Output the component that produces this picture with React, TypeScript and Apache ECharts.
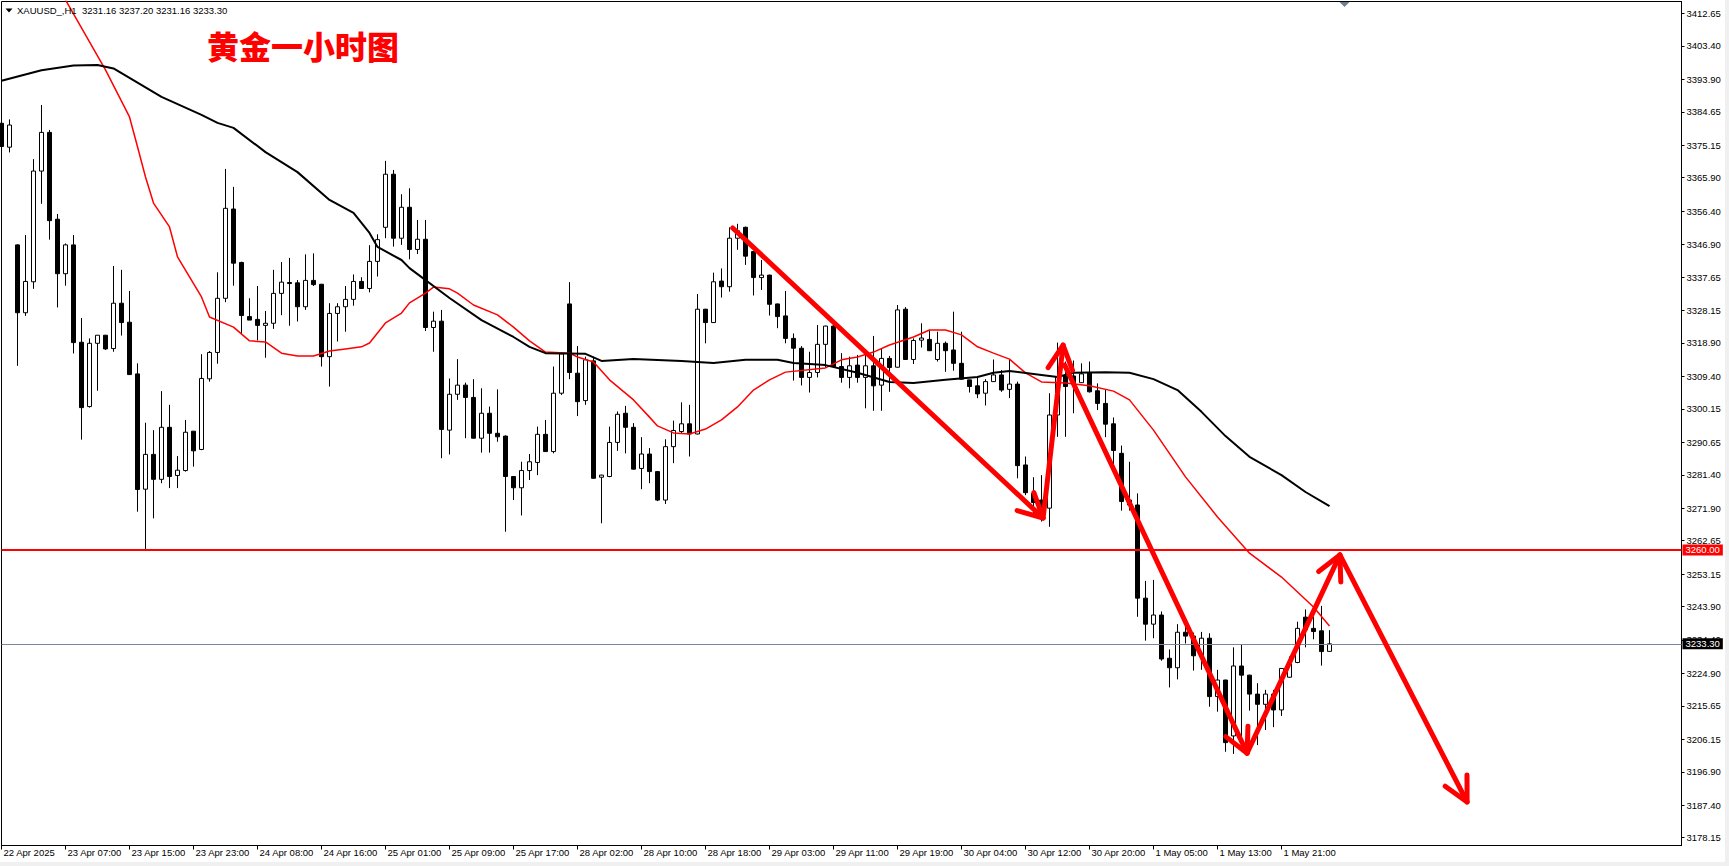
import React, { useEffect, useRef } from "react";
import * as echarts from "echarts";

const xTickLabels = [
  "22 Apr 2025", "23 Apr 07:00", "23 Apr 15:00", "23 Apr 23:00", "24 Apr 08:00", "24 Apr 16:00",
  "25 Apr 01:00", "25 Apr 09:00", "25 Apr 17:00", "28 Apr 02:00", "28 Apr 10:00", "28 Apr 18:00",
  "29 Apr 03:00", "29 Apr 11:00", "29 Apr 19:00", "30 Apr 04:00", "30 Apr 12:00", "30 Apr 20:00",
  "1 May 05:00", "1 May 13:00", "1 May 21:00",
];
const barsPerLabel = 8;
const slotCount = 211;

const priceTicks = [
  3412.65, 3403.4, 3393.9, 3384.65, 3375.15, 3365.9, 3356.4, 3346.9, 3337.65, 3328.15, 3318.9,
  3309.4, 3300.15, 3290.65, 3281.4, 3271.9, 3262.65, 3253.15, 3243.9, 3234.4, 3224.9, 3215.65,
  3206.15, 3196.9, 3187.4, 3178.15,
];

const levelPrice = 3260.0;

// [open, high, low, close]
const barsA = [
  [3381.4, 3385.7, 3366.7, 3374.8], [3374.6, 3382.5, 3373.1, 3380.9], [3346.8, 3347.0, 3312.4, 3327.5],
  [3327.5, 3349.6, 3326.6, 3336.4], [3336.3, 3371.2, 3334.3, 3367.8], [3367.8, 3386.6, 3358.5, 3378.8],
  [3378.8, 3379.5, 3348.3, 3353.7], [3354.1, 3355.6, 3329.0, 3338.6], [3338.6, 3347.2, 3335.2, 3346.8],
  [3346.8, 3349.6, 3315.9, 3319.0], [3319.1, 3326.0, 3291.4, 3300.5], [3300.8, 3320.2, 3300.5, 3318.8],
  [3318.8, 3321.1, 3305.3, 3321.1], [3321.1, 3321.2, 3316.9, 3317.2], [3317.3, 3340.8, 3316.4, 3330.2],
  [3330.2, 3339.7, 3321.0, 3324.7], [3324.8, 3333.7, 3309.8, 3309.9], [3310.1, 3313.1, 3270.9, 3277.2],
  [3277.3, 3296.2, 3260.0, 3287.2], [3287.2, 3294.1, 3269.0, 3280.1], [3280.1, 3305.2, 3279.0, 3294.9],
  [3294.9, 3301.3, 3277.6, 3280.9], [3281.2, 3286.7, 3277.6, 3282.7], [3282.6, 3297.0, 3282.3, 3293.5],
  [3293.8, 3293.8, 3283.7, 3288.2], [3288.6, 3315.7, 3288.4, 3308.8], [3308.7, 3316.6, 3307.9, 3316.2],
  [3316.2, 3339.0, 3313.0, 3331.6], [3331.6, 3368.4, 3330.5, 3357.2], [3357.0, 3363.3, 3335.2, 3341.6],
  [3341.8, 3342.0, 3321.4, 3326.7], [3326.4, 3331.6, 3325.4, 3325.4], [3325.6, 3335.1, 3319.6, 3323.9],
  [3323.9, 3328.0, 3314.7, 3324.5], [3324.5, 3339.7, 3322.9, 3333.0], [3333.0, 3341.9, 3326.8, 3336.2],
  [3336.1, 3343.1, 3323.8, 3335.8], [3336.0, 3336.8, 3325.0, 3329.2], [3329.2, 3344.1, 3328.3, 3336.7],
  [3336.7, 3344.4, 3335.1, 3335.5], [3335.6, 3335.7, 3312.2, 3315.0], [3315.0, 3330.2, 3306.5, 3327.3],
];
const barsB = [
  [3327.3, 3330.2, 3319.3, 3329.2], [3329.2, 3335.1, 3322.1, 3331.3], [3331.3, 3338.4, 3329.5, 3336.4],
  [3336.4, 3337.6, 3334.3, 3334.4], [3334.4, 3346.7, 3333.3, 3342.1], [3342.1, 3349.8, 3337.8, 3348.3],
  [3351.8, 3370.7, 3348.7, 3366.9], [3366.9, 3368.1, 3346.3, 3348.7], [3348.7, 3361.2, 3346.8, 3357.5],
  [3357.5, 3362.9, 3342.7, 3345.5], [3345.5, 3353.9, 3344.2, 3348.4], [3348.4, 3353.9, 3322.3, 3323.3],
  [3323.3, 3327.8, 3316.4, 3325.1], [3325.1, 3328.3, 3286.1, 3294.3], [3294.1, 3308.8, 3287.2, 3304.3],
  [3304.3, 3314.3, 3302.7, 3306.9], [3306.9, 3307.6, 3291.8, 3303.4], [3303.4, 3308.6, 3291.7, 3291.8],
  [3291.8, 3306.0, 3287.7, 3298.9], [3298.9, 3300.8, 3287.7, 3293.2], [3293.2, 3305.7, 3290.8, 3292.2],
  [3292.4, 3292.6, 3265.2, 3280.9], [3280.9, 3281.0, 3274.2, 3277.7], [3277.7, 3285.1, 3269.8, 3282.6],
  [3282.6, 3287.3, 3279.9, 3285.1], [3284.9, 3295.1, 3281.3, 3292.9], [3292.9, 3297.0, 3287.9, 3288.0],
  [3288.0, 3312.2, 3287.5, 3304.6], [3304.6, 3316.0, 3304.1, 3315.8], [3330.0, 3336.2, 3308.6, 3310.5],
  [3310.3, 3318.0, 3298.1, 3302.2], [3302.5, 3315.0, 3301.3, 3314.1], [3313.8, 3315.0, 3280.3, 3280.4],
  [3280.7, 3281.4, 3267.6, 3281.3], [3280.9, 3295.1, 3280.7, 3290.6], [3290.6, 3299.4, 3288.2, 3298.6],
  [3298.9, 3301.0, 3287.5, 3294.9], [3294.9, 3296.1, 3282.9, 3283.0], [3283.2, 3292.1, 3277.3, 3287.3],
  [3287.3, 3289.0, 3279.0, 3282.3], [3282.3, 3282.4, 3273.9, 3274.2], [3274.2, 3291.5, 3273.1, 3289.4],
];
const barsC = [
  [3289.4, 3296.8, 3284.7, 3294.0], [3293.7, 3302.0, 3293.2, 3295.9], [3295.9, 3301.3, 3286.6, 3293.0],
  [3293.0, 3332.8, 3292.9, 3328.5], [3328.5, 3328.6, 3318.8, 3324.7], [3324.7, 3338.9, 3324.6, 3336.3],
  [3336.5, 3340.1, 3331.8, 3334.9], [3334.9, 3351.8, 3333.5, 3348.7], [3348.7, 3352.8, 3345.4, 3350.8],
  [3351.8, 3352.0, 3341.1, 3343.6], [3344.9, 3345.0, 3332.4, 3337.5], [3337.5, 3342.5, 3334.0, 3338.2],
  [3338.2, 3338.3, 3326.7, 3329.9], [3330.0, 3330.1, 3323.1, 3326.4], [3326.6, 3333.7, 3318.8, 3320.2],
  [3320.2, 3321.6, 3308.2, 3317.4], [3317.4, 3318.0, 3306.8, 3309.1], [3309.1, 3316.4, 3304.8, 3310.5],
  [3310.5, 3324.0, 3309.1, 3318.5], [3318.5, 3323.8, 3311.9, 3323.7], [3323.7, 3324.5, 3312.0, 3312.2],
  [3312.2, 3316.0, 3307.6, 3309.1], [3309.1, 3315.0, 3306.0, 3312.4], [3312.6, 3315.5, 3307.6, 3309.1],
  [3309.1, 3316.0, 3300.3, 3312.4], [3312.4, 3320.9, 3299.6, 3306.7], [3306.9, 3317.4, 3299.6, 3314.5],
  [3314.5, 3315.2, 3305.0, 3311.9], [3312.0, 3329.7, 3311.9, 3328.3], [3328.5, 3329.1, 3314.2, 3314.2],
  [3314.2, 3320.2, 3312.9, 3319.6], [3319.7, 3324.5, 3317.6, 3320.3], [3319.9, 3322.6, 3316.6, 3316.7],
  [3314.2, 3322.1, 3313.6, 3318.8], [3318.8, 3319.3, 3310.7, 3316.7], [3316.9, 3327.8, 3311.0, 3313.1],
  [3313.1, 3322.1, 3308.5, 3308.6], [3308.4, 3308.4, 3304.8, 3306.5], [3306.7, 3309.5, 3303.2, 3304.4],
  [3304.6, 3308.6, 3301.1, 3307.9], [3307.9, 3314.2, 3307.8, 3309.8], [3309.8, 3311.2, 3305.0, 3305.5],
];
const barsD = [
  [3305.7, 3314.2, 3303.2, 3307.2], [3307.2, 3307.9, 3280.4, 3284.0], [3284.2, 3286.6, 3275.6, 3276.3],
  [3276.1, 3280.7, 3270.1, 3273.5], [3274.2, 3281.3, 3268.1, 3270.4], [3271.9, 3304.6, 3266.6, 3298.4],
  [3298.4, 3319.0, 3292.2, 3309.3], [3309.5, 3313.6, 3292.2, 3306.5], [3309.5, 3313.9, 3298.9, 3307.6],
  [3307.6, 3313.1, 3307.5, 3310.1], [3310.5, 3313.6, 3304.8, 3305.0], [3305.3, 3307.4, 3299.8, 3301.7],
  [3301.7, 3305.5, 3292.1, 3295.8], [3295.9, 3297.7, 3284.2, 3288.3], [3287.5, 3289.7, 3271.2, 3273.8],
  [3274.2, 3285.1, 3271.2, 3272.8], [3272.8, 3276.1, 3241.0, 3246.3], [3246.3, 3251.2, 3234.2, 3238.9],
  [3238.9, 3251.5, 3234.9, 3241.5], [3241.5, 3242.5, 3228.5, 3229.0], [3229.2, 3231.7, 3220.9, 3226.5],
  [3226.5, 3238.9, 3223.2, 3236.6], [3236.6, 3238.7, 3233.4, 3235.5], [3235.5, 3236.5, 3225.7, 3229.9],
  [3229.9, 3236.7, 3225.9, 3234.9], [3234.9, 3236.3, 3215.4, 3218.3], [3218.3, 3225.9, 3214.0, 3223.0],
  [3223.0, 3223.1, 3202.6, 3205.2], [3207.1, 3232.3, 3202.0, 3227.0], [3227.0, 3233.0, 3204.0, 3224.4],
  [3224.4, 3224.5, 3214.3, 3219.0], [3219.0, 3222.1, 3204.5, 3216.1], [3216.1, 3220.2, 3208.8, 3219.0],
  [3219.0, 3220.2, 3209.6, 3214.5], [3214.5, 3226.4, 3212.8, 3226.3], [3223.8, 3229.7, 3223.7, 3227.6],
  [3228.0, 3239.6, 3227.8, 3237.7], [3240.9, 3243.1, 3232.3, 3237.3], [3237.7, 3241.0, 3234.6, 3236.8],
  [3237.0, 3244.1, 3227.1, 3231.1], [3231.16, 3237.2, 3231.16, 3233.3],
];

// moving averages: [bar index, price]
const fastMA = [
  [7, 3422.0], [8, 3416.5], [13, 3396.6], [16, 3383.2], [17, 3374.7], [18, 3366.1], [19, 3358.7],
  [21, 3351.9], [22, 3343.4], [25, 3332.0], [26, 3326.3], [29, 3323.4], [31, 3319.5], [33, 3319.2],
  [35, 3316.0], [37, 3315.2], [39, 3315.2], [41, 3316.6], [43, 3317.2], [45, 3317.8], [46, 3318.9],
  [48, 3324.6], [50, 3327.4], [51, 3330.3], [53, 3333.1], [54, 3334.8], [56, 3334.3], [57, 3333.1],
  [59, 3329.7], [62, 3326.9], [64, 3323.4], [66, 3319.5], [68, 3316.3], [71, 3316.0], [72, 3314.9],
  [74, 3313.5], [76, 3308.4], [79, 3302.7], [81, 3297.8], [82, 3295.3], [84, 3293.3], [86, 3293.0],
  [88, 3294.4], [90, 3297.0], [92, 3300.7], [94, 3305.5], [96, 3308.4], [98, 3310.6], [103, 3311.8],
  [105, 3314.1], [107, 3314.9], [109, 3316.3], [111, 3318.3], [114, 3320.6], [116, 3322.6],
  [118, 3322.6], [120, 3321.2], [122, 3317.8], [124, 3316.0], [126, 3314.3], [128, 3310.4],
  [130, 3307.8], [133, 3307.5], [136, 3306.7], [139, 3305.2], [141, 3302.7], [144, 3294.1],
  [148, 3280.8], [152, 3269.4], [156, 3259.1], [160, 3252.3], [164, 3243.8], [166, 3238.4],
];
const slowMA = [
  [0, 3393.5], [5, 3396.5], [9, 3397.8], [12, 3398.0], [14, 3397.0], [20, 3388.9], [25, 3383.8],
  [27, 3381.5], [29, 3380.1], [33, 3373.2], [37, 3367.5], [41, 3359.6], [44, 3355.9], [46, 3350.2],
  [47, 3346.2], [50, 3342.5], [51, 3340.2], [56, 3331.7], [60, 3325.4], [64, 3320.6], [66, 3317.8],
  [68, 3316.0], [73, 3315.8], [75, 3313.8], [79, 3314.3], [85, 3313.8], [89, 3313.2], [93, 3314.1],
  [97, 3314.1], [99, 3313.2], [103, 3312.6], [107, 3310.4], [111, 3307.8], [114, 3307.5],
  [118, 3308.4], [122, 3309.2], [124, 3310.4], [126, 3310.9], [130, 3309.8], [132, 3309.2],
  [134, 3310.4], [138, 3310.6], [141, 3310.4], [144, 3308.6], [147, 3305.5], [150, 3299.3],
  [153, 3292.4], [156, 3286.5], [160, 3281.3], [163, 3276.5], [166, 3272.5],
];

// hand-drawn arrows: [fromBar, fromPrice, toBar, toPrice]
const arrowSegments = [
  [91.4, 3351.6, 130.2, 3269.1],
  [130.2, 3269.1, 132.7, 3318.3],
  [132.9, 3312.6, 155.7, 3202.2],
  [155.7, 3202.2, 167.3, 3258.6],
  [167.3, 3258.6, 183.2, 3188.3],
];

const symbolName = "XAUUSD_,H1";
const chartTitle = "黄金一小时图";

export default function App() {
  const ref = useRef<HTMLDivElement>(null);

  useEffect(() => {
    document.body.style.margin = "0";
    const el = ref.current!;
    const chart = echarts.init(el, null, { renderer: "svg" });

    const candles = [...barsA, ...barsB, ...barsC, ...barsD];
    const last = candles[candles.length - 1];
    const lastPrice = last[3];
    const cats = Array.from({ length: slotCount }, (_, i) => String(i));
    const isLabelIdx = (i: number) => i % barsPerLabel === 0 && i / barsPerLabel < xTickLabels.length;

    const font = "Liberation Sans";

    const option: any = {
      animation: false,
      backgroundColor: "#ffffff",
      textStyle: { fontFamily: font },
      grid: {
        left: 1.5,
        top: 1.5,
        width: 1680,
        height: 844,
        show: true,
        borderColor: "#000",
        borderWidth: 1,
        backgroundColor: "transparent",
      },
      xAxis: {
        type: "category",
        data: cats,
        boundaryGap: false,
        axisLine: { show: true, lineStyle: { color: "#000", width: 1 } },
        axisTick: {
          show: true,
          length: 4,
          lineStyle: { color: "#000" },
          interval: (i: number) => isLabelIdx(i),
        },
        axisLabel: {
          show: true,
          interval: (i: number) => isLabelIdx(i),
          formatter: (_v: string, i: number) => (isLabelIdx(i) ? xTickLabels[i / barsPerLabel] : ""),
          align: "left",
          padding: [0, 0, 0, 2],
          margin: 2,
          fontSize: 9.5,
          fontFamily: font,
          color: "#000",
        },
        splitLine: { show: false },
      },
      yAxis: {
        type: "value",
        position: "right",
        min: 3175.93,
        max: 3416.04,
        scale: true,
        axisLine: { show: true, lineStyle: { color: "#000", width: 1 } },
        axisTick: { show: true, length: 3, lineStyle: { color: "#000" }, customValues: priceTicks },
        axisLabel: {
          show: true,
          customValues: priceTicks,
          formatter: (v: number) => v.toFixed(2),
          margin: 5,
          fontSize: 9.5,
          fontFamily: font,
          color: "#000",
        },
        splitLine: { show: false },
      },
      series: [
        {
          type: "candlestick",
          data: candles.map(([o, h, l, c]) => [o, c, l, h]),
          barWidth: 4,
          clip: true,
          z: 2,
          itemStyle: {
            color: "#ffffff",
            color0: "#000000",
            borderColor: "#000000",
            borderColor0: "#000000",
            borderWidth: 1,
          },
          markLine: {
            silent: true,
            symbol: ["none", "none"],
            animation: false,
            z: 6,
            data: [
              {
                yAxis: levelPrice,
                lineStyle: { color: "#ff0000", width: 2, type: "solid" },
                label: {
                  show: true,
                  position: "end",
                  distance: 1,
                  formatter: levelPrice.toFixed(2),
                  color: "#ffffff",
                  backgroundColor: "#ff0000",
                  padding: [1, 3, 0, 3],
                  fontSize: 9.5,
                  lineHeight: 10,
                  fontFamily: font,
                },
              },
              {
                yAxis: lastPrice,
                lineStyle: { color: "#778899", width: 1, type: "solid" },
                label: {
                  show: true,
                  position: "end",
                  distance: 1,
                  formatter: lastPrice.toFixed(2),
                  color: "#ffffff",
                  backgroundColor: "#000000",
                  padding: [1, 3, 0, 3],
                  fontSize: 9.5,
                  lineHeight: 10,
                  fontFamily: font,
                },
              },
            ],
          },
        },
        {
          type: "line",
          data: fastMA,
          showSymbol: false,
          clip: true,
          z: 3,
          lineStyle: { color: "#ff0000", width: 1.5 },
        },
        {
          type: "line",
          data: slowMA,
          showSymbol: false,
          clip: true,
          z: 3,
          lineStyle: { color: "#000000", width: 2 },
        },
        {
          type: "custom",
          data: arrowSegments,
          dimensions: [
            { name: "x1", type: "float" },
            { name: "y1", type: "float" },
            { name: "x2", type: "float" },
            { name: "y2", type: "float" },
          ],
          encode: { x: 0, y: 1 },
          z: 8,
          silent: true,
          renderItem: (_params: any, api: any) => {
            const px = (xv: number, yv: number) => {
              const i0 = Math.floor(xv);
              const a = api.coord([i0, yv]);
              const b = api.coord([i0 + 1, yv]);
              return [a[0] + (b[0] - a[0]) * (xv - i0), a[1]];
            };
            const s = px(api.value(0), api.value(1));
            const e = px(api.value(2), api.value(3));
            const dx = e[0] - s[0];
            const dy = e[1] - s[1];
            const len = Math.hypot(dx, dy) || 1;
            const ux = dx / len;
            const uy = dy / len;
            const L = 27;
            const ang = (27 * Math.PI) / 180;
            const arm = (sgn: number) => {
              const c = Math.cos(ang);
              const sn = Math.sin(ang) * sgn;
              const rx = -(ux * c - uy * sn);
              const ry = -(ux * sn + uy * c);
              return [e[0] + rx * L, e[1] + ry * L];
            };
            const style = {
              stroke: "#ff0000",
              lineWidth: 5,
              lineCap: "round",
              lineJoin: "round",
              fill: null,
            };
            return {
              type: "group",
              children: [
                { type: "line", shape: { x1: s[0], y1: s[1], x2: e[0], y2: e[1] }, style },
                { type: "polyline", shape: { points: [arm(1), e, arm(-1)] }, style },
              ],
            };
          },
        },
      ],
      graphic: [
        { type: "rect", shape: { x: 0, y: 862, width: 1729, height: 4 }, style: { fill: "#f0f0f0" }, z: 10 },
        { type: "rect", shape: { x: 1725, y: 0, width: 4, height: 866 }, style: { fill: "#f0f0f0" }, z: 10 },
        {
          type: "polygon",
          shape: { points: [[1339.5, 2], [1349.5, 2], [1344.5, 7]] },
          style: { fill: "#708090" },
          z: 10,
        },
        {
          type: "polygon",
          shape: { points: [[5.5, 8.5], [12.5, 8.5], [9, 12.5]] },
          style: { fill: "#000" },
          z: 10,
        },
        {
          type: "text",
          x: 17,
          y: 10,
          style: {
            text: symbolName,
            fontSize: 9.5,
            fontFamily: font,
            fill: "#000",
            verticalAlign: "middle",
          },
          z: 10,
        },
        {
          type: "text",
          x: 82,
          y: 10,
          style: {
            text: [last[0], last[1], last[2], last[3]].map((v) => v.toFixed(2)).join(" "),
            fontSize: 9.5,
            fontFamily: font,
            fill: "#000",
            verticalAlign: "middle",
          },
          z: 10,
        },
        {
          type: "text",
          x: 207,
          y: 45,
          style: {
            text: chartTitle,
            fontSize: 32,
            fontWeight: 900,
            fontFamily: "Noto Sans CJK SC",
            fill: "#ff0000",
            verticalAlign: "middle",
          },
          z: 10,
        },
      ],
    };

    chart.setOption(option);
    return () => chart.dispose();
  }, []);

  return <div ref={ref} style={{ width: 1729, height: 866, background: "#fff" }} />;
}
